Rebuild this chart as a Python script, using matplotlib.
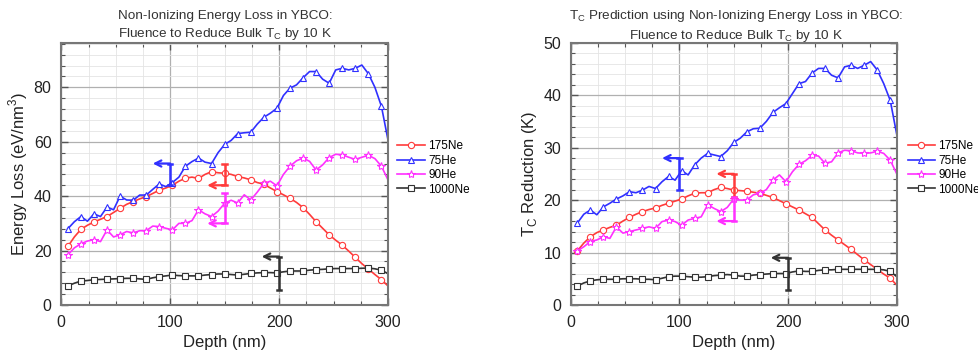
import numpy as np
import matplotlib
matplotlib.use("Agg")
import matplotlib.pyplot as plt
from matplotlib.ticker import MultipleLocator

plt.rcParams['font.family'] = ['Liberation Sans', 'DejaVu Sans']
plt.rcParams['mathtext.fontset'] = 'custom'
plt.rcParams['mathtext.rm'] = 'Liberation Sans'

# ---------------- data ----------------
depth = np.arange(6, 301, 6)  # nm, 6..300

series_names = ["175Ne", "75He", "90He", "1000Ne"]

# Left chart: energy loss (eV/nm^3)
el_175Ne = [21.5, 25, 27.8, 29.3, 30.5, 31.5, 32.5, 34, 35.5, 37,
            38, 39, 39.8, 41, 42.2, 43, 44, 45.5, 46.6, 47,
            46.5, 48, 49, 48.6, 48.4, 48, 47.2, 46.7, 46, 45,
            44.4, 43, 41.7, 40.5, 39.2, 37.7, 35.8, 33.3, 30.6, 28.2,
            25.8, 23.8, 22, 19.8, 17.5, 15.2, 13.2, 11.2, 9.3, 7]
el_75He = [28, 30.6, 32.5, 30.8, 33.5, 32.5, 36, 35, 40, 38.6,
           38.5, 40.4, 40.4, 42.5, 44.5, 43.5, 45, 47, 51, 52.7,
           54, 52.5, 52, 56, 59, 60.5, 63, 63.3, 63.5, 66.5,
           69, 70.5, 72.3, 77, 79.7, 80.9, 83.5, 85.8, 85.8, 83,
           81.5, 86.4, 87, 86.4, 87, 88.2, 85, 80, 73, 60.7]
el_90He = [18.4, 21, 22.5, 23.5, 24, 23.3, 27.6, 25, 25.8, 27,
           26.5, 27.3, 27.3, 29, 28.8, 28.2, 27.6, 30, 30, 31,
           35, 33.5, 32.5, 34.5, 37.4, 38.5, 37.5, 40.5, 38.6, 41.5,
           44.7, 45.5, 43.8, 48, 51, 53, 54, 52.8, 49.6, 51.5,
           54.2, 55.4, 55.2, 54.3, 53.5, 54.3, 55, 53.8, 51, 46]
el_1000Ne = [7, 8, 8.8, 9, 9.3, 9.4, 9.5, 9.6, 9.7, 9.8,
             9.8, 9.6, 9.4, 10, 10.4, 10.7, 11, 10.8, 10.7, 10.7,
             10.7, 11, 11.2, 11.4, 11.4, 11.2, 11, 11.3, 11.6, 11.8,
             11.9, 11.9, 11.8, 12.2, 12.5, 12.5, 12.5, 12.8, 13, 13.1,
             13.3, 13.4, 13.4, 13.4, 13.4, 13.5, 13.6, 13.3, 12.8, 11.5]

# Right chart: Tc reduction (K)
tc_175Ne = [10.3, 11.8, 13, 13.8, 14.3, 14.8, 15.2, 16, 16.7, 17.3,
            17.8, 18.2, 18.5, 19, 19.4, 19.8, 20.2, 20.8, 21.3, 21.4,
            21.4, 22, 22.4, 22.2, 21.9, 21.8, 21.7, 21.5, 21.3, 20.9,
            20.5, 19.9, 19.3, 18.7, 18.1, 17.4, 16.7, 15.5, 14.3, 13.3,
            12.4, 11.5, 10.6, 9.6, 8.6, 7.7, 6.8, 5.9, 5.1, 3.8]
tc_75He = [15.6, 17.3, 18.1, 17.2, 18.7, 19.4, 20.2, 20.8, 21.6, 21.4,
           21.9, 22.6, 22.2, 23.5, 24.5, 23.8, 25.6, 24.8, 26.7, 28,
           28.9, 28.6, 28.3, 29.4, 31, 31.8, 33, 33.6, 33.7, 35,
           36.7, 37.6, 38.4, 40.3, 42.2, 42.6, 44.2, 45.1, 45.1, 43.8,
           43.3, 45.4, 45.7, 45.1, 45.7, 46.4, 44.8, 42.2, 39, 32.5]
tc_90He = [10.3, 11.1, 12.1, 12.4, 13, 12.7, 14.9, 13.7, 14, 14.3,
           14.6, 14.9, 14.6, 15.9, 16.2, 15.9, 15.2, 16.2, 16.5, 16.8,
           19.1, 18.4, 17.8, 18.6, 20.2, 20, 20, 21, 21.3, 22,
           23.8, 24.8, 23.5, 25.4, 26.8, 27.5, 28.5, 28.4, 27, 27.3,
           29, 29.5, 29.4, 29, 28.9, 29, 29.3, 28.9, 27.6, 25]
tc_1000Ne = [3.6, 4.2, 4.6, 4.8, 4.9, 4.9, 4.9, 5, 5, 5,
             4.9, 4.9, 4.8, 5.1, 5.4, 5.5, 5.5, 5.4, 5.3, 5.3,
             5.4, 5.6, 5.7, 5.8, 5.7, 5.5, 5.5, 5.7, 5.8, 5.9,
             6, 6, 6, 6.3, 6.5, 6.4, 6.4, 6.6, 6.7, 6.7,
             6.8, 6.8, 6.8, 6.8, 6.8, 6.8, 6.8, 6.7, 6.4, 5.4]

# Bracket annotations: (x, y_low, y_high, arrow at 'top'/'bottom', arrow tip x)
el_brackets = [(100, 44, 52, 'top', 84), (150, 44, 52, 'bottom', 134),
               (150, 30, 41, 'bottom', 134), (200, 5.5, 17.8, 'top', 184)]
tc_brackets = [(100, 22, 28, 'top', 84), (150, 20.6, 25, 'top', 134),
               (150, 16, 20.6, 'bottom', 134), (200, 2.8, 9, 'top', 184)]

colors = ["#ff3b3b", "#3030ff", "#ff30ff", "#333333"]
markers = ["o", "^", "*", "s"]

fig = plt.figure(figsize=(9.79, 3.53), dpi=100)
ax1 = fig.add_axes([0.0626, 0.136, 0.3337, 0.743])
ax2 = fig.add_axes([0.583, 0.136, 0.333, 0.743])


def draw(ax, data, brackets, ymax, ymaj, ymin_step, ylabel, legx):
    for name, vals, c, m in zip(series_names, data, colors, markers):
        ms = 6 if m == "*" else 4.5
        ax.plot(depth, vals, color=c, lw=1.2, marker=m, ms=ms,
                mfc="white", mec=c, mew=0.8, markevery=(0, 2), label=name)
    for (x, lo, hi, where, tip), c in zip(brackets, [colors[1], colors[0], colors[2], colors[3]]):
        ax.plot([x, x], [lo, hi], color=c, lw=1.8, solid_capstyle='butt')
        for yy in (lo, hi):
            ax.plot([x - 2, x + 2], [yy, yy], color=c, lw=1.8)
        ya = hi if where == 'top' else lo
        ax.annotate("", xy=(tip, ya), xytext=(x, ya),
                    arrowprops=dict(arrowstyle="->", color=c, lw=1.6,
                                    shrinkA=0, shrinkB=0, mutation_scale=11))
    ax.set_xlim(0, 300)
    ax.set_ylim(0, ymax)
    ax.xaxis.set_major_locator(MultipleLocator(100))
    ax.xaxis.set_minor_locator(MultipleLocator(25))
    ax.yaxis.set_major_locator(MultipleLocator(ymaj))
    ax.yaxis.set_minor_locator(MultipleLocator(ymin_step))
    ax.grid(which='major', color='#b0b0b0', lw=0.9)
    ax.grid(which='minor', color='#e4e4e4', lw=0.6)
    ax.set_axisbelow(True)
    ax.tick_params(which='both', direction='in', top=True, right=True,
                   labelsize=11.5, colors='#222222', pad=7)
    ax.tick_params(which='major', length=5, width=1, color='#555555')
    ax.tick_params(which='minor', length=3, width=0.8, color='#555555')
    for s in ax.spines.values():
        s.set_color('#777777')
        s.set_linewidth(1.5)
    ax.set_xlabel("Depth (nm)", fontsize=12, color='#222222', labelpad=4)
    ax.set_ylabel(ylabel, fontsize=12, color='#222222', labelpad=3)
    ax.legend(loc='center left', bbox_to_anchor=(legx, 0.524),
              bbox_transform=fig.transFigure, frameon=False, fontsize=8.5,
              handlelength=2.3, handletextpad=0.3, labelspacing=0.2,
              numpoints=1, borderaxespad=0, borderpad=0)


draw(ax1, [el_175Ne, el_75He, el_90He, el_1000Ne], el_brackets, 96.4, 20, 4,
     r"Energy Loss (eV/nm$^\mathregular{3}$)", 0.406)
draw(ax2, [tc_175Ne, tc_75He, tc_90He, tc_1000Ne], tc_brackets, 50, 10, 2,
     r"T$_\mathregular{C}$ Reduction (K)", 0.927)

tcol = '#333333'
tfs = 9.7
fig.text(0.23, 0.955, "Non-Ionizing Energy Loss in YBCO:", ha='center', va='center',
         fontsize=tfs, color=tcol)
fig.text(0.23, 0.903, r"Fluence to Reduce Bulk T$_\mathregular{C}$ by 10 K", ha='center',
         va='center', fontsize=tfs, color=tcol)
fig.text(0.752, 0.955, r"T$_\mathregular{C}$ Prediction using Non-Ionizing Energy Loss in YBCO:",
         ha='center', va='center', fontsize=tfs, color=tcol)
fig.text(0.752, 0.898, r"Fluence to Reduce Bulk T$_\mathregular{C}$ by 10 K", ha='center',
         va='center', fontsize=tfs, color=tcol)

fig.savefig("out.png", dpi=100)
